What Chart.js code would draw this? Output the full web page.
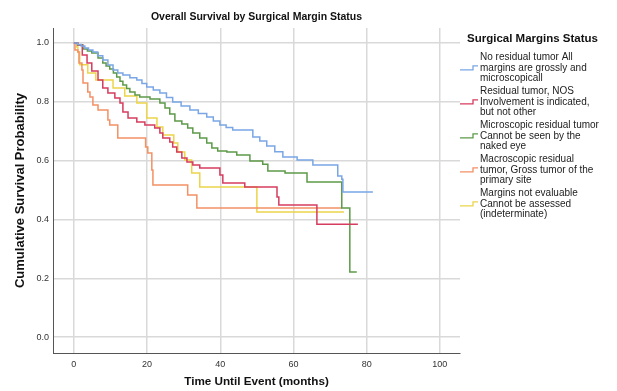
<!DOCTYPE html>
<html>
<head>
<meta charset="utf-8">
<script src="https://cdn.jsdelivr.net/npm/chart.js@4/dist/chart.umd.min.js"></script>
<style>
body{margin:0;background:#fff}
#box{width:617px;height:391px}
</style>
</head>
<body>
<div id="box"><canvas id="grafico" width="617" height="391"></canvas></div>
<script>

// time (months) and survival, one pair of arrays per group
const noResidualTime = [0,1,2,3,4,5.2,6.5,7.9,9.3,10.7,12,13.4,15.3,17.2,18.6,19.9,21.7,23.5,25.3,27,29.3,31.7,34,36.3,38.1,39.9,41.6,43.4,48.9,50.8,52.7,54.9,57.1,61,65.3,72.1,73.2,73.5,81.7]
const noResidualSurv = [1,0.995,0.99,0.983,0.976,0.969,0.957,0.942,0.925,0.908,0.898,0.891,0.882,0.874,0.862,0.85,0.84,0.83,0.815,0.799,0.786,0.772,0.76,0.748,0.735,0.721,0.713,0.704,0.68,0.667,0.65,0.63,0.612,0.602,0.585,0.548,0.537,0.493,0.493]

const residualNosTime = [0,1.1,2.3,3.6,4.9,6.6,7.9,9.3,11.2,12.6,13.4,14.8,17.2,19.4,22.1,23.5,24.3,26.2,27,28.1,29.5,30.9,32.5,34.4,39.9,40.7,46.7,55.5,56,66.4,77.6]
const residualNosSurv = [1,0.993,0.959,0.932,0.905,0.874,0.847,0.83,0.813,0.796,0.765,0.745,0.731,0.721,0.711,0.694,0.677,0.663,0.646,0.629,0.609,0.595,0.585,0.575,0.551,0.524,0.51,0.476,0.449,0.384,0.384]

const microTime = [0,1,2.5,3.7,4.9,6.6,7.9,8.8,9.8,10.8,11.7,12.6,13.4,14.4,15.3,16.7,18,20.8,23.5,24.9,26.2,27.6,29.5,31.1,32.5,34.4,36.3,37.7,39.3,41.8,44.5,48.1,51.6,53,57.7,63.7,73.2,75.4,77.3]
const microSurv = [1,0.993,0.98,0.973,0.966,0.949,0.932,0.922,0.912,0.898,0.884,0.87,0.857,0.845,0.833,0.823,0.816,0.81,0.796,0.779,0.759,0.735,0.725,0.711,0.694,0.677,0.66,0.643,0.633,0.629,0.619,0.599,0.588,0.565,0.558,0.527,0.439,0.221,0.221]

const macroTime = [0,0.3,1.1,1.4,2.2,2.5,3.8,4.4,5.2,6.6,9.3,9.8,12,19.6,20.2,21.3,21.6,31.1,33.6,73.2]
const macroSurv = [1,0.976,0.969,0.932,0.908,0.864,0.833,0.816,0.789,0.772,0.738,0.721,0.677,0.646,0.626,0.568,0.517,0.483,0.439,0.439]

const notEvalTime = [0,0.8,1.1,1.6,3.8,6,10.7,13.9,17.2,19.9,22.7,24.3,27.3,28.4,30.3,32.2,34.4,50,73.8]
const notEvalSurv = [1,0.986,0.969,0.926,0.898,0.874,0.847,0.82,0.796,0.745,0.714,0.687,0.66,0.629,0.602,0.558,0.51,0.425,0.425]

const legendLines = [
["No residual tumor All","margins are grossly and","microscopicall"],
["Residual tumor, NOS","Involvement is indicated,","but not other"],
["Microscopic residual tumor","Cannot be seen by the","naked eye"],
["Macroscopic residual","tumor, Gross tumor of the","primary site"],
["Margins not evaluable","Cannot be assessed","(indeterminate)"]
]
const cores = ["#7aa6e6","#d63c5e","#5c9a48","#f39064","#ecd54a"]

const xTicks = [0,20,40,60,80,100]
const yTicks = [0,0.2,0.4,0.6,0.8,1.0]

function pares(t,s){
return t.map((v,i)=>({x:v,y:s[i]}))
}

function serie(t,s,cor){
return {
data: pares(t,s),
borderColor: cor,
borderWidth: 1.5,
pointRadius: 0,
stepped: "before",
fill: false
}
}

const fonte = "'Liberation Sans', Arial, sans-serif"

const textos = {
id: "textos",
afterDraw(chart){
const c = chart.ctx
const a = chart.chartArea
c.save()
c.fillStyle = "#111"
c.textBaseline = "middle"

c.font = "bold 10.5px " + fonte
c.textAlign = "center"
c.fillText("Overall Survival by Surgical Margin Status", (a.left+a.right)/2, 17)

c.font = "bold 11.7px " + fonte
c.fillText("Time Until Event (months)", (a.left+a.right)/2, 382)

c.font = "bold 13px " + fonte
c.save()
c.translate(20, (a.top+a.bottom)/2)
c.rotate(-Math.PI/2)
c.fillText("Cumulative Survival Probability", 0, 0)
c.restore()

// legend
c.textAlign = "left"
c.font = "bold 11.5px " + fonte
c.fillText("Surgical Margins Status", 467, 39)

c.font = "10px " + fonte
c.fillStyle = "#222"
let y = 57
legendLines.forEach((linhas,i)=>{
linhas.forEach((l,j)=>{
c.fillText(l, 480, y + j*10.8)
})
let ym = y + 10.8
c.strokeStyle = cores[i]
c.lineWidth = 1.3
c.beginPath()
c.moveTo(460, ym+2)
c.lineTo(473, ym+2)
c.lineTo(473, ym-2)
c.lineTo(478, ym-2)
c.stroke()
y += 34
})
c.restore()
}
}

const ctx = document.getElementById("grafico").getContext("2d")

const grafico = new Chart(ctx, {
type: "line",
data: {
datasets: [
serie(noResidualTime, noResidualSurv, cores[0]),
serie(residualNosTime, residualNosSurv, cores[1]),
serie(microTime, microSurv, cores[2]),
serie(macroTime, macroSurv, cores[3]),
serie(notEvalTime, notEvalSurv, cores[4])
]
},
options: {
responsive: false,
animation: false,
devicePixelRatio: 1,
layout: { padding: { top: 28, right: 157, left: 0, bottom: 0 } },
plugins: {
legend: { display: false },
tooltip: { enabled: false }
},
scales: {
x: {
type: "linear",
min: -5.7,
max: 105.5,
afterBuildTicks: s => { s.ticks = xTicks.map(v=>({value:v})) },
afterFit: s => { s.height = 38 },
ticks: { color: "#333", font: { size: 9, family: fonte }, padding: 6, callback: v => v },
grid: { color: "#d9d9d9", lineWidth: 1.5, drawTicks: false },
border: { color: "#555", width: 1 }
},
y: {
min: -0.054,
max: 1.051,
afterBuildTicks: s => { s.ticks = yTicks.map(v=>({value:v})) },
afterFit: s => { s.width = 53 },
ticks: { color: "#333", font: { size: 9, family: fonte }, padding: 4, callback: v => v.toFixed(1) },
grid: { color: "#d9d9d9", lineWidth: 1.5, drawTicks: false },
border: { color: "#555", width: 1 }
}
}
},
plugins: [textos]
})
</script>
</body>
</html>
